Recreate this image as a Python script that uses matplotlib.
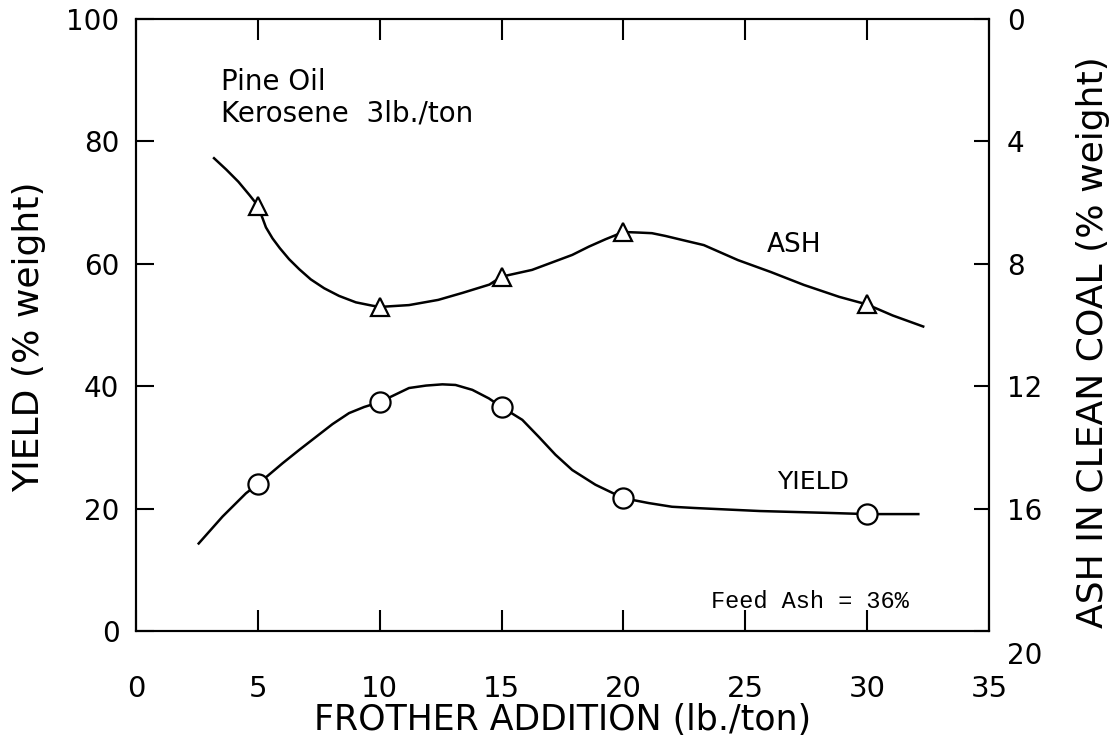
import matplotlib.pyplot as plt
import matplotlib.transforms as mtransforms

# data points
frother = [5, 10, 15, 20, 30]
yield_pts = [24.0, 37.4, 36.6, 21.7, 19.1]
ash_pts = [6.1, 9.41, 8.42, 6.96, 9.33]

# hand-drawn curves
yield_curve_x = [2.57, 3.55, 4.51, 5.0, 6.01, 6.7, 7.38, 8.06, 8.74, 9.36, 10.0, 11.2, 11.9,
                 12.57, 13.11, 13.8, 14.48, 15.0, 15.85, 16.53, 17.21, 17.9, 18.85, 20.0,
                 21.04, 21.99, 22.9, 25.6, 28.35, 30.0, 32.1]
yield_curve_y = [14.3, 18.7, 22.5, 24.0, 27.4, 29.6, 31.7, 33.8, 35.6, 36.6, 37.4, 39.7, 40.1,
                 40.3, 40.2, 39.4, 38.0, 36.6, 34.5, 31.7, 28.8, 26.3, 23.9, 21.7,
                 20.9, 20.3, 20.1, 19.6, 19.3, 19.1, 19.1]

ash_curve_x = [3.2, 3.7, 4.2, 4.65, 5.0, 5.33, 5.6, 5.9, 6.28, 6.7, 7.17, 7.72, 8.33, 9.02, 9.7,
               10.0, 11.2, 12.4, 13.4, 14.5, 15.0, 16.25, 17.9, 18.58, 19.26, 20.0, 20.63,
               21.17, 21.72, 22.4, 23.3, 24.7, 26.05, 27.4, 28.85, 30.0, 31.05, 32.3]
ash_curve_y = [4.55, 4.92, 5.32, 5.75, 6.1, 6.81, 7.17, 7.49, 7.85, 8.18, 8.51, 8.8, 9.05, 9.26,
               9.37, 9.41, 9.35, 9.18, 8.95, 8.68, 8.42, 8.2, 7.71, 7.44, 7.2, 6.96, 6.98,
               7.0, 7.09, 7.22, 7.39, 7.88, 8.27, 8.69, 9.08, 9.33, 9.69, 10.05]

xticks = [0, 5, 10, 15, 20, 25, 30, 35]
yticks = [0, 20, 40, 60, 80, 100]
ash_ticks = [0, 4, 8, 12, 16, 20]

plt.rcParams['font.family'] = ['DejaVu Sans']

fig = plt.figure(figsize=(11.17, 7.47), dpi=100)
ax = fig.add_axes([0.1218, 0.1553, 0.7636, 0.8193])
ax2 = ax.twinx()

lw = 1.8
ax.plot(yield_curve_x, yield_curve_y, color='black', lw=lw, zorder=2)
ax.plot(frother, yield_pts, ls='none', marker='o', ms=14.5, mfc='white', mec='black',
        mew=1.6, zorder=3)
ax2.plot(ash_curve_x, ash_curve_y, color='black', lw=lw, zorder=2)
ax2.plot(frother, ash_pts, ls='none', marker='^', ms=13.5, mfc='white', mec='black',
         mew=1.6, zorder=3)

ax.set_xlim(0, 35)
ax.set_ylim(0, 100)
ax2.set_ylim(20, 0)

ax.set_xticks(xticks)
ax.set_yticks(yticks)
ax2.set_yticks(ash_ticks)

for a in (ax, ax2):
    for s in a.spines.values():
        s.set_linewidth(1.5)

ax.tick_params(axis='x', direction='in', length=15, width=1.5, top=True, labelsize=21, pad=32)
ax.tick_params(axis='y', direction='in', length=13, width=1.5, labelsize=20, pad=12)
ax2.tick_params(axis='y', direction='in', length=11, width=1.5, labelsize=20, pad=13)

# the "20" on the right axis sits a little below the corner
lab20 = ax2.get_yticklabels()[-1]
lab20.set_transform(lab20.get_transform() +
                    mtransforms.ScaledTranslation(0, -22 / 100, fig.dpi_scale_trans))

ax.set_xlabel('FROTHER ADDITION (lb./ton)', fontsize=25, labelpad=0)
ax.set_ylabel('YIELD (% weight)', fontsize=26)
ax2.set_ylabel('ASH IN CLEAN COAL (% weight)', fontsize=26)
ax.yaxis.set_label_coords(-0.105, 0.48)
ax2.yaxis.set_label_coords(1.102, 0.472)

ax.text(3.5, 89.7, 'Pine Oil', fontsize=20, va='center', ha='left')
ax.text(3.5, 84.5, 'Kerosene  3lb./ton', fontsize=20, va='center', ha='left')
ax.text(25.9, 63.1, 'ASH', fontsize=19, va='center', ha='left')
ax.text(26.3, 24.3, 'YIELD', fontsize=18, va='center', ha='left')
ax.text(23.6, 4.9, 'Feed Ash = 36%', fontsize=17, va='center', ha='left',
        family=['Liberation Mono', 'DejaVu Sans Mono'])

fig.savefig('out.png', dpi=100)
